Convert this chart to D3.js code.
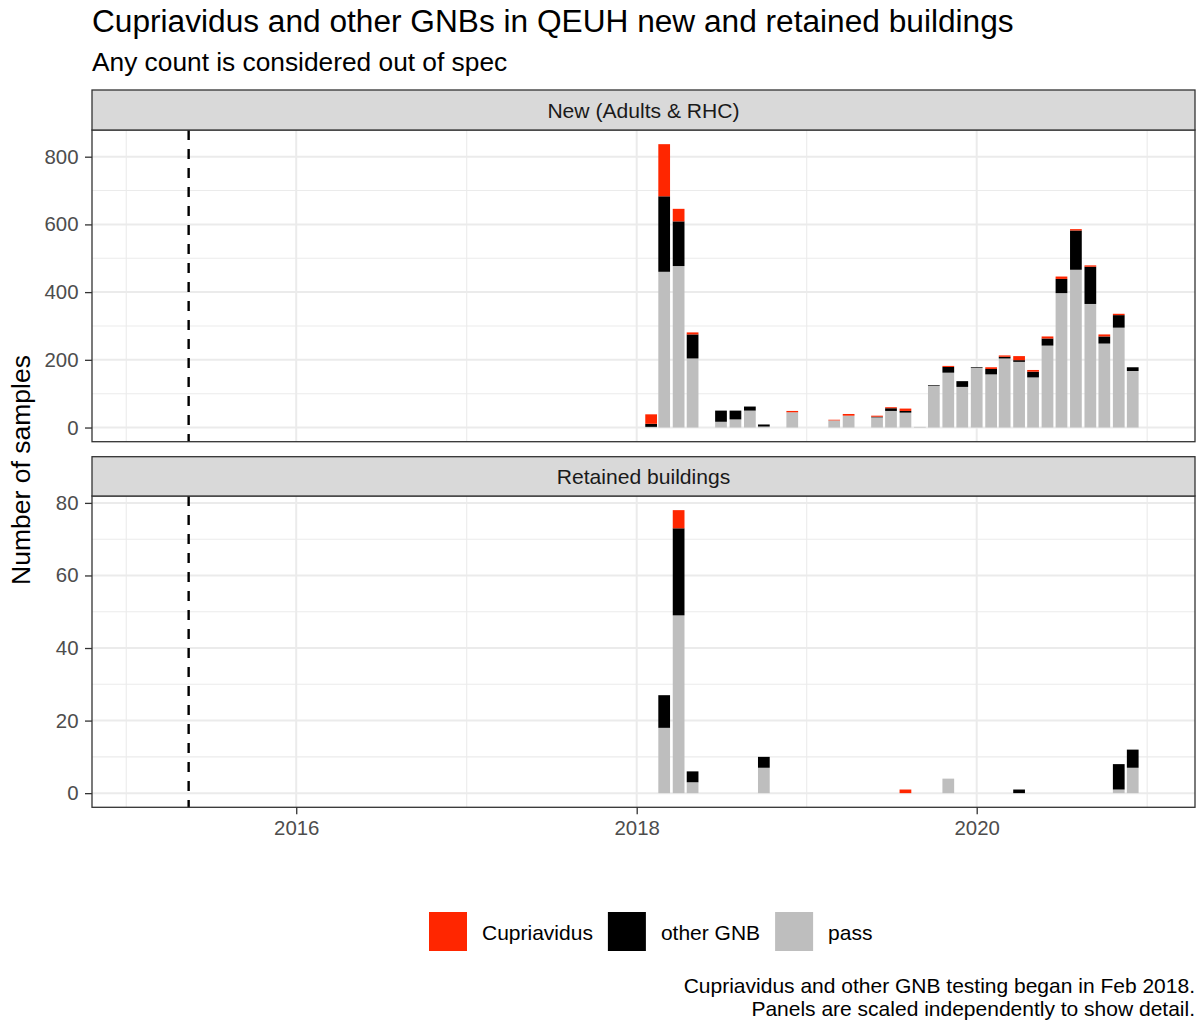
<!DOCTYPE html>
<html>
<head>
<meta charset="utf-8">
<script src="https://cdn.jsdelivr.net/npm/d3@7"></script>
<style>
  html, body { margin: 0; padding: 0; background: #ffffff; }
  svg { display: block; font-family: "Liberation Sans", Arial, Helvetica, sans-serif; }
</style>
</head>
<body>
<svg id="chart" width="1196" height="1024"></svg>
<script>
// ---------------- DATA ----------------
const seriesKeys = ["pass", "other", "cupri"];
const seriesLabels = { cupri: "Cupriavidus", other: "other GNB", pass: "pass" };
const legendOrder = ["cupri", "other", "pass"];
const seriesColors = { cupri: "#FF2600", other: "#000000", pass: "#BEBEBE" };

const panelTitles = ["New (Adults & RHC)", "Retained buildings"];

// New (Adults & RHC) – monthly counts
const newMonths = ["2018-02","2018-03","2018-04","2018-05","2018-07","2018-08","2018-09","2018-10",
                   "2018-12","2019-03","2019-04","2019-06","2019-07","2019-08","2019-09","2019-10",
                   "2019-11","2019-12","2020-01","2020-02","2020-03","2020-04","2020-05","2020-06",
                   "2020-07","2020-08","2020-09","2020-10","2020-11","2020-12"];
const newPass  = [2,460,477,204,17,24,50,3,45,21,35,30,49,44,2,123,162,120,176,157,204,194,148,242,397,466,365,248,295,167];
const newOther = [9,223,132,71,33,26,12,6,0,0,0,2,8,5,0,2,17,17,2,16,5,5,17,21,42,116,110,21,37,11];
const newCupri = [28,154,37,6,0,0,0,0,4,2,5,3,3,7,0,0,3,0,0,5,4,12,5,6,7,4,4,6,4,0];

// Retained buildings – monthly counts
const retMonths = ["2018-03","2018-04","2018-05","2018-10","2019-08","2019-11","2020-04","2020-11","2020-12"];
const retPass  = [18,49,3,7,0,4,0,1,7];
const retOther = [9,24,3,3,0,0,1,7,5];
const retCupri = [0,5,0,0,1,0,0,0,0];

const majorYearTicks = ["2016-01-01","2018-01-01","2020-01-01"];
const minorYearTicks = ["2015-01-01","2017-01-01","2019-01-01","2021-01-01"];
const newYTicks = [0,200,400,600,800];
const newYMinor = [100,300,500,700];
const retYTicks = [0,20,40,60,80];
const retYMinor = [10,30,50,70];
const vlineDate = "2015-05-15";

const titleText = "Cupriavidus and other GNBs in QEUH new and retained buildings";
const subtitleText = "Any count is considered out of spec";
const yTitleText = "Number of samples";
const captionLines = ["Cupriavidus and other GNB testing began in Feb 2018.",
                      "Panels are scaled independently to show detail."];

// ---------------- LAYOUT ----------------
const parse = d3.utcParse("%Y-%m-%d");
const parseMonth = d3.utcParse("%Y-%m");
const L = 92, R = 1195;
const panels = [
  { stripTop: 90, top: 130, bottom: 441.7, months: newMonths, pass: newPass, other: newOther, cupri: newCupri,
    ticks: newYTicks, minor: newYMinor, title: panelTitles[0], showX: false },
  { stripTop: 456.7, top: 496, bottom: 807.3, months: retMonths, pass: retPass, other: retOther, cupri: retCupri,
    ticks: retYTicks, minor: retYMinor, title: panelTitles[1], showX: true }
];

// x scale: calibrated so that year gridlines fall where they are in the reference
const xCal = d3.scaleUtc().domain([parse("2018-01-01"), parse("2020-01-01")]).range([636.7, 976.7]);
const x = d3.scaleUtc().domain([xCal.invert(L), xCal.invert(R)]).range([L, R]);
const barDays = 25.2;
const dayMs = 86400000;

const svg = d3.select("#chart");
svg.append("rect").attr("width", 1196).attr("height", 1024).attr("fill", "#ffffff");

// Title & subtitle
svg.append("text").attr("x", L).attr("y", 31.5).attr("font-size", 31.65).attr("fill", "#000")
  .text(titleText);
svg.append("text").attr("x", L).attr("y", 71).attr("font-size", 26.3).attr("fill", "#000")
  .text(subtitleText);

panels.forEach(p => {
  const rows = p.months.map((m, i) => ({ date: parseMonth(m), pass: p.pass[i], other: p.other[i], cupri: p.cupri[i] }));
  const maxTotal = d3.max(rows, d => d.pass + d.other + d.cupri);
  const y = d3.scaleLinear().domain([-0.05 * maxTotal, 1.05 * maxTotal]).range([p.bottom, p.top]);

  const g = svg.append("g");
  g.append("rect").attr("x", L).attr("y", p.top).attr("width", R - L).attr("height", p.bottom - p.top).attr("fill", "#fff");

  // minor grid
  g.selectAll(".hminor").data(p.minor).join("line")
    .attr("x1", L).attr("x2", R).attr("y1", d => y(d)).attr("y2", d => y(d))
    .attr("stroke", "#EBEBEB").attr("stroke-width", 1.1);
  g.selectAll(".vminor").data(minorYearTicks.map(parse)).join("line")
    .attr("x1", d => x(d)).attr("x2", d => x(d)).attr("y1", p.top).attr("y2", p.bottom)
    .attr("stroke", "#EBEBEB").attr("stroke-width", 1.1);
  // major grid
  g.selectAll(".hmajor").data(p.ticks).join("line")
    .attr("x1", L).attr("x2", R).attr("y1", d => y(d)).attr("y2", d => y(d))
    .attr("stroke", "#EBEBEB").attr("stroke-width", 2);
  g.selectAll(".vmajor").data(majorYearTicks.map(parse)).join("line")
    .attr("x1", d => x(d)).attr("x2", d => x(d)).attr("y1", p.top).attr("y2", p.bottom)
    .attr("stroke", "#EBEBEB").attr("stroke-width", 2);

  // stacked bars
  const stack = d3.stack().keys(seriesKeys)(rows);
  const x0 = d => x(new Date(d.data.date.getTime() - barDays / 2 * dayMs));
  const x1 = d => x(new Date(d.data.date.getTime() + barDays / 2 * dayMs));
  stack.forEach(layer => {
    g.append("g").attr("fill", seriesColors[layer.key])
      .selectAll("rect").data(layer.filter(d => d[1] > d[0])).join("rect")
      .attr("x", x0)
      .attr("width", d => x1(d) - x0(d))
      .attr("y", d => y(d[1]))
      .attr("height", d => y(d[0]) - y(d[1]));
  });

  // dashed vertical line
  g.append("line")
    .attr("x1", x(parse(vlineDate))).attr("x2", x(parse(vlineDate)))
    .attr("y1", p.top).attr("y2", p.bottom)
    .attr("stroke", "#000").attr("stroke-width", 2.4).attr("stroke-dasharray", "10,9");

  // panel border
  g.append("rect").attr("x", L).attr("y", p.top).attr("width", R - L).attr("height", p.bottom - p.top)
    .attr("fill", "none").attr("stroke", "#333333").attr("stroke-width", 1.3);

  // strip
  g.append("rect").attr("x", L).attr("y", p.stripTop).attr("width", R - L).attr("height", p.top - p.stripTop)
    .attr("fill", "#D9D9D9").attr("stroke", "#333333").attr("stroke-width", 1.3);
  g.append("text").attr("x", (L + R) / 2).attr("y", (p.stripTop + p.top) / 2).attr("dy", "0.36em")
    .attr("text-anchor", "middle").attr("font-size", 21.1).attr("fill", "#1A1A1A").text(p.title);

  // y axis
  const ya = svg.append("g").attr("transform", `translate(${L},0)`)
    .call(d3.axisLeft(y).tickValues(p.ticks).tickSize(7).tickPadding(6.5).tickFormat(d3.format("d")));
  ya.select(".domain").remove();
  ya.selectAll(".tick line").attr("stroke", "#333333").attr("stroke-width", 1.3);
  ya.selectAll(".tick text").attr("fill", "#4D4D4D").attr("font-size", 20.4)
    .attr("font-family", "'Liberation Sans', Arial, sans-serif");

  if (p.showX) {
    const xa = svg.append("g").attr("transform", `translate(0,${p.bottom})`)
      .call(d3.axisBottom(x).tickValues(majorYearTicks.map(parse)).tickSize(7).tickPadding(6.5).tickFormat(d3.utcFormat("%Y")));
    xa.select(".domain").remove();
    xa.selectAll(".tick line").attr("stroke", "#333333").attr("stroke-width", 1.3);
    xa.selectAll(".tick text").attr("fill", "#4D4D4D").attr("font-size", 20.4)
      .attr("font-family", "'Liberation Sans', Arial, sans-serif");
  }
});

// y axis title
svg.append("text").attr("transform", "translate(30,470) rotate(-90)")
  .attr("text-anchor", "middle").attr("font-size", 26.5).attr("fill", "#000").text(yTitleText);

// legend
const legend = svg.append("g");
let lx = 429;
legendOrder.forEach(k => {
  legend.append("rect").attr("x", lx).attr("y", 912).attr("width", 38).attr("height", 39).attr("fill", seriesColors[k]);
  const t = legend.append("text").attr("x", lx + 53).attr("y", 940).attr("font-size", 21).attr("fill", "#000").text(seriesLabels[k]);
  lx = lx + 53 + t.node().getComputedTextLength() + 15;
});

// caption
captionLines.forEach((c, i) => {
  svg.append("text").attr("x", R).attr("y", 993 + i * 22.5).attr("text-anchor", "end")
    .attr("font-size", 21).attr("fill", "#000").text(c);
});
</script>
</body>
</html>
